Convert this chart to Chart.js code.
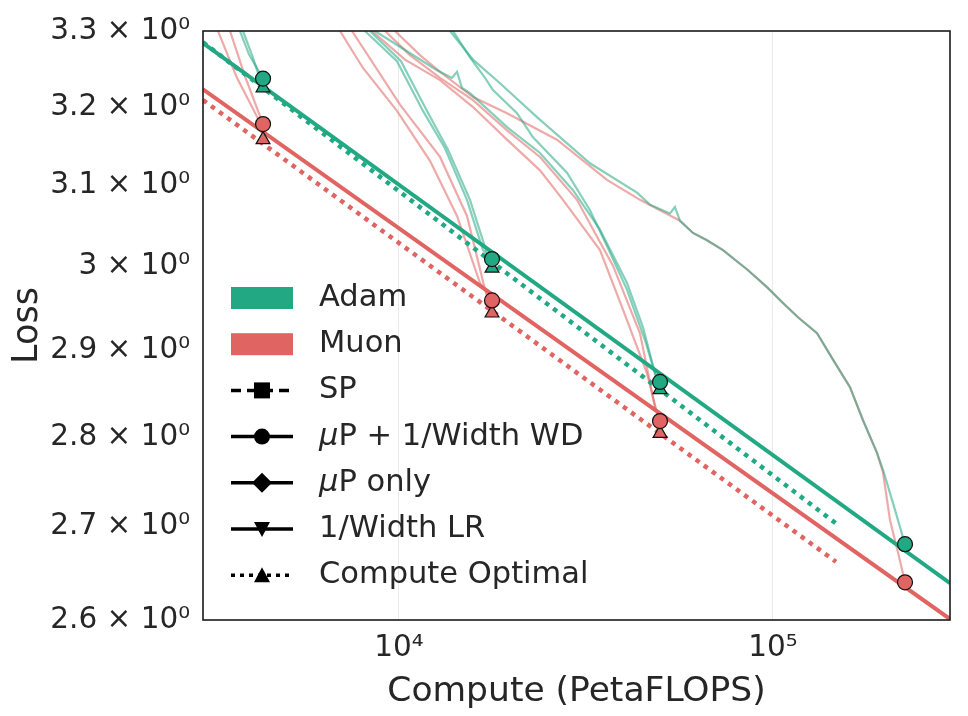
<!DOCTYPE html>
<html>
<head>
<meta charset="utf-8">
<script src="https://cdn.jsdelivr.net/npm/chart.js@4.4.1/dist/chart.umd.min.js"></script>
<style>
  html, body { margin: 0; padding: 0; background: #fff; }
</style>
</head>
<body>
<canvas id="grafico" width="968" height="716"></canvas>
<script>
// ticks
const xTicks = [1e4, 1e5]
const yTicks = [2.6, 2.7, 2.8, 2.9, 3.0, 3.1, 3.2, 3.3]

// training runs, [compute (PetaFLOPS), loss]
const adam1a = [[3757, 3.300], [3971, 3.269], [4330, 3.237]]
const adam1b = [[3827, 3.300], [4060, 3.266], [4330, 3.225]]
const muon1a = [[3281, 3.300], [3688, 3.238], [4250, 3.180]]
const muon1b = [[3533, 3.300], [3875, 3.240], [4330, 3.178]]

const adam2a = [[8111, 3.300], [9878, 3.260], [11592, 3.195], [13274, 3.147], [15200, 3.082], [16774, 3.020], [17730, 3.009]]
const adam2b = [[8364, 3.300], [10124, 3.260], [11884, 3.195], [13522, 3.145], [15482, 3.082], [17087, 3.020], [17730, 2.998]]
const muon2a = [[6955, 3.300], [8012, 3.251], [9878, 3.195], [12103, 3.131], [14295, 3.062], [16467, 2.980], [17730, 2.960]]
const muon2b = [[7487, 3.300], [10062, 3.203], [12872, 3.136], [15200, 3.062], [16982, 2.972], [17730, 2.944]]

const adam3a = [[8626, 3.300], [10505, 3.273], [12637, 3.248], [13860, 3.238], [14295, 3.246], [14737, 3.225], [15482, 3.218],
  [19448, 3.174], [23826, 3.141], [29190, 3.094], [34469, 3.045], [40704, 2.980], [44920, 2.927], [48367, 2.873], [49882, 2.863]]
const adam3b = [[13946, 3.300], [15482, 3.265], [16982, 3.238], [17840, 3.222], [20681, 3.192], [22822, 3.161], [28132, 3.116],
  [32411, 3.069], [35989, 3.025], [40704, 2.972], [45476, 2.912], [48966, 2.865], [49882, 2.854]]
const muon3a = [[9176, 3.300], [10700, 3.268], [12872, 3.238], [15774, 3.209], [19448, 3.170], [23826, 3.136], [29918, 3.082],
  [33425, 3.041], [37345, 3.001], [44098, 2.920], [48367, 2.834], [49882, 2.818]]
const muon3b = [[8468, 3.300], [10376, 3.262], [12872, 3.235], [15774, 3.200], [19448, 3.158], [23826, 3.119], [27448, 3.082],
  [34469, 3.020], [39714, 2.948], [46040, 2.873], [48966, 2.827], [49882, 2.804]]

const adam4 = [[13690, 3.300], [15774, 3.262], [18625, 3.231], [23387, 3.187], [32411, 3.128], [43290, 3.091], [46900, 3.076],
  [53034, 3.065], [54692, 3.073], [56403, 3.056], [61110, 3.041], [66610, 3.032], [73500, 3.020],
  [85480, 2.996], [96378, 2.975], [106350, 2.956], [116660, 2.939], [131150, 2.920], [144700, 2.889], [160670, 2.857],
  [174060, 2.819], [189740, 2.782], [196890, 2.763], [209400, 2.726], [225450, 2.681]]
const muon4 = [[9757, 3.300], [11379, 3.268], [12872, 3.246], [15774, 3.213], [19448, 3.192], [26452, 3.158], [35989, 3.107],
  [44098, 3.082], [56403, 3.056], [61110, 3.041], [66610, 3.032], [73500, 3.020], [85480, 2.996],
  [96378, 2.975], [106350, 2.956], [116660, 2.939], [131150, 2.920], [144700, 2.889], [160670, 2.857], [174060, 2.819],
  [189740, 2.782], [196890, 2.760], [205560, 2.707], [215940, 2.672], [225450, 2.640]]

// fitted scaling laws (straight in log-log, so the two ends are enough)
const adamFit = [[2992, 3.284], [297400, 2.639]]
const muonFit = [[2992, 3.223], [297400, 2.601]]
const adamOptFit = [[2992, 3.285], [149200, 2.702]]
const muonOptFit = [[2992, 3.209], [147400, 2.662]]

// final points
const adamWD = [[4330, 3.237], [17730, 3.009], [49882, 2.863], [225450, 2.681]]
const adamOpt = [[4330, 3.225], [17730, 2.998], [49882, 2.854]]
const muonWD = [[4330, 3.178], [17730, 2.959], [49882, 2.818], [225450, 2.640]]
const muonOpt = [[4330, 3.158], [17730, 2.944], [49882, 2.804]]

const verde = '#22a883'
const vermelho = '#e06461'
const verdeFraco = 'rgba(34,168,131,0.55)'
const vermelhoFraco = 'rgba(224,100,97,0.55)'
const texto = '#262626'
const fonte = '"DejaVu Sans", sans-serif'

const sup = { 0: '⁰', 4: '⁴', 5: '⁵' }

function pts(arr) {
  return arr.map(p => ({ x: p[0], y: p[1] }))
}

function corrida(arr, cor) {
  return {
    data: pts(arr), showLine: true, borderColor: cor, borderWidth: 2.2,
    pointRadius: 0, order: 3, tension: 0
  }
}

function ajuste(arr, cor, tracejado) {
  return {
    data: pts(arr), showLine: true, borderColor: cor, borderWidth: tracejado ? 4.5 : 4,
    borderDash: tracejado ? [4.5, 5.5] : [], pointRadius: 0, order: 2
  }
}

function pontos(arr, cor, estilo) {
  return {
    data: pts(arr), showLine: false, pointStyle: estilo,
    pointRadius: estilo === 'triangle' ? 8 : 7.5,
    pointBackgroundColor: cor, pointBorderColor: '#111', pointBorderWidth: 1.2, order: 1
  }
}

const datasets = [
  corrida(adam1a, verdeFraco), corrida(adam1b, verdeFraco),
  corrida(muon1a, vermelhoFraco), corrida(muon1b, vermelhoFraco),
  corrida(adam2a, verdeFraco), corrida(adam2b, verdeFraco),
  corrida(muon2a, vermelhoFraco), corrida(muon2b, vermelhoFraco),
  corrida(adam3a, verdeFraco), corrida(adam3b, verdeFraco),
  corrida(muon3a, vermelhoFraco), corrida(muon3b, vermelhoFraco),
  corrida(adam4, verdeFraco), corrida(muon4, vermelhoFraco),
  ajuste(adamFit, verde, false), ajuste(muonFit, vermelho, false),
  ajuste(adamOptFit, verde, true), ajuste(muonOptFit, vermelho, true),
  pontos(adamWD, verde, 'circle'), pontos(muonWD, vermelho, 'circle'),
  pontos(adamOpt, verde, 'triangle'), pontos(muonOpt, vermelho, 'triangle')
]

// legend entries
const legenda = [
  { texto: 'Adam', tipo: 'patch', cor: verde },
  { texto: 'Muon', tipo: 'patch', cor: vermelho },
  { texto: 'SP', tipo: 'linha', dash: [10, 6], marca: 'quadrado' },
  { texto: 'P + 1/Width WD', mu: true, tipo: 'linha', dash: [], marca: 'circulo' },
  { texto: 'P only', mu: true, tipo: 'linha', dash: [], marca: 'losango' },
  { texto: '1/Width LR', tipo: 'linha', dash: [], marca: 'trianguloBaixo' },
  { texto: 'Compute Optimal', tipo: 'linha', dash: [4, 5], marca: 'trianguloCima' }
]

function marca(ctx, tipo, x, y) {
  ctx.beginPath()
  if (tipo === 'quadrado') {
    ctx.rect(x - 8, y - 8, 16, 16)
  } else if (tipo === 'circulo') {
    ctx.arc(x, y, 8, 0, Math.PI * 2)
  } else if (tipo === 'losango') {
    ctx.moveTo(x, y - 10); ctx.lineTo(x + 10, y); ctx.lineTo(x, y + 10); ctx.lineTo(x - 10, y)
  } else if (tipo === 'trianguloBaixo') {
    ctx.moveTo(x - 8, y - 7); ctx.lineTo(x + 8, y - 7); ctx.lineTo(x, y + 8)
  } else {
    ctx.moveTo(x - 8, y + 7); ctx.lineTo(x + 8, y + 7); ctx.lineTo(x, y - 8)
  }
  ctx.closePath()
  ctx.fill()
}

const pluginLegenda = {
  id: 'legenda',
  afterDatasetsDraw(chart) {
    const ctx = chart.ctx
    const a = chart.chartArea
    const x0 = a.left + 28
    const x1 = a.left + 90
    const xt = a.left + 116
    ctx.save()
    legenda.forEach((item, i) => {
      const y = 298 + i * 46.2
      if (item.tipo === 'patch') {
        ctx.fillStyle = item.cor
        ctx.fillRect(x0, y - 11, x1 - x0, 22)
      } else {
        ctx.strokeStyle = '#000'
        ctx.fillStyle = '#000'
        ctx.lineWidth = 3.5
        ctx.setLineDash(item.dash)
        ctx.beginPath()
        ctx.moveTo(x0, y)
        ctx.lineTo(x1, y)
        ctx.stroke()
        ctx.setLineDash([])
        marca(ctx, item.marca, (x0 + x1) / 2, y)
      }
      ctx.fillStyle = texto
      ctx.textBaseline = 'middle'
      let x = xt
      if (item.mu) {
        ctx.font = 'italic 30.5px ' + fonte
        ctx.fillText('μ', x, y)
        x += ctx.measureText('μ').width
      }
      ctx.font = '30.5px ' + fonte
      ctx.fillText(item.texto, x, y)
    })
    ctx.restore()
  }
}

const pluginMoldura = {
  id: 'moldura',
  afterDatasetsDraw(chart) {
    const a = chart.chartArea
    const ctx = chart.ctx
    ctx.save()
    ctx.strokeStyle = '#1a1a1a'
    ctx.lineWidth = 1.6
    ctx.strokeRect(a.left, a.top, a.right - a.left, a.bottom - a.top)
    ctx.restore()
  }
}

function criarGraf() {
  const ctx = document.getElementById('grafico').getContext('2d')

  new Chart(ctx, {
    type: 'scatter',
    data: { datasets: datasets },
    options: {
      responsive: false,
      animation: false,
      layout: { padding: { left: 0, right: 18, top: 31, bottom: 0 } },
      plugins: { legend: { display: false }, tooltip: { enabled: false } },
      scales: {
        x: {
          type: 'logarithmic',
          min: 2992,
          max: 297400,
          afterBuildTicks: s => { s.ticks = xTicks.map(v => ({ value: v })) },
          afterFit: s => { s.height = 96 },
          grid: { color: 'rgba(0,0,0,0.08)', lineWidth: 1, drawTicks: false },
          border: { display: false },
          ticks: {
            autoSkip: false, maxRotation: 0, padding: 11, color: texto,
            font: { family: fonte, size: 29.5 },
            callback: v => '10' + sup[Math.round(Math.log10(v))]
          },
          title: {
            display: true, text: 'Compute (PetaFLOPS)', color: texto,
            font: { family: fonte, size: 34.5 }, padding: { top: 0, bottom: 3 }
          }
        },
        y: {
          type: 'logarithmic',
          min: 2.6,
          max: 3.3,
          afterBuildTicks: s => { s.ticks = yTicks.map(v => ({ value: v })) },
          afterFit: s => { s.width = 203 },
          grid: { display: false },
          border: { display: false },
          ticks: {
            autoSkip: false, padding: 5, color: texto,
            font: { family: fonte, size: 29.5 },
            callback: v => String(v) + ' × 10⁰'
          },
          title: {
            display: true, text: 'Loss', color: texto,
            font: { family: fonte, size: 35 }, padding: { top: 7, bottom: 0 }
          }
        }
      }
    },
    plugins: [pluginMoldura, pluginLegenda]
  })
}

criarGraf()
</script>
</body>
</html>
